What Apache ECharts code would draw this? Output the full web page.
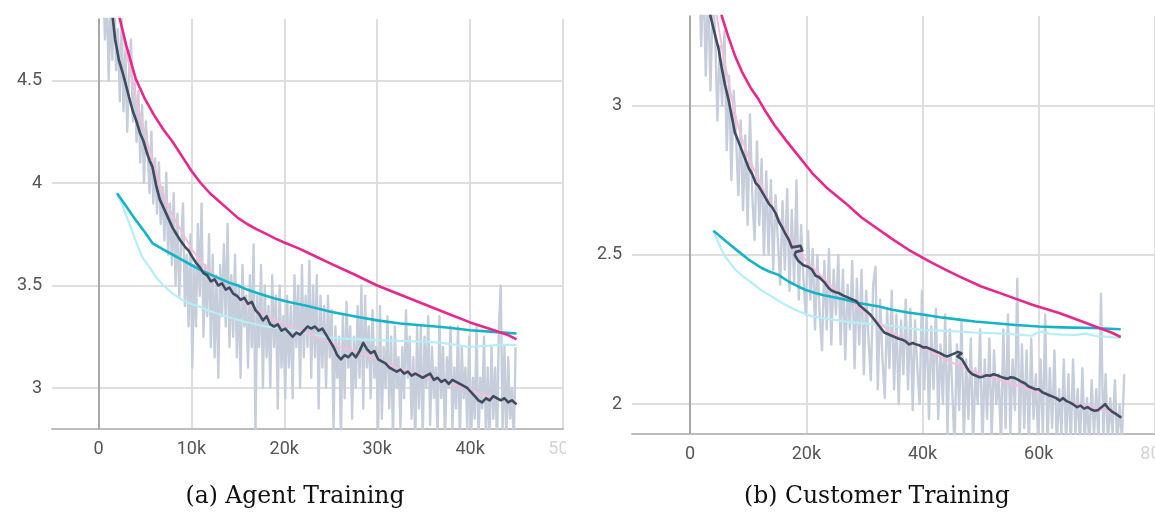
<!DOCTYPE html>
<html>
<head>
<meta charset="utf-8">
<script src="https://cdn.jsdelivr.net/npm/echarts@6/dist/echarts.min.js"></script>
<style>
html,body{margin:0;padding:0;background:#fff;overflow:hidden;}
#chart{width:1155px;height:514px;}
</style>
</head>
<body>
<div id="chart"></div>
<script>
// ---------- Agent training (panel a), x in thousands of steps ----------
const agentXTicks = [0, 10, 20, 30, 40, 50];
const agentYTicks = [3, 3.5, 4, 4.5];
const agentRawStart = 0.5, agentRawStep = 0.2;
const agentRawLoss = [
  5.0, 4.7, 4.95, 4.5, 4.85, 4.6, 4.98, 4.55, 4.75, 4.4,
  4.8, 4.35, 4.65, 4.25, 4.55, 4.7, 4.3, 4.5, 4.2, 4.45,
  4.1, 4.38, 4.0, 4.3, 4.15, 3.95, 4.25, 3.9, 4.12, 3.85,
  4.1, 3.8, 3.98, 3.72, 4.05, 3.65, 3.9, 3.6, 3.95, 3.5,
  3.85, 3.45, 3.7, 3.9, 3.4, 3.65, 3.3, 3.75, 3.1, 3.6,
  3.3, 3.8, 3.45, 3.9, 3.25, 3.6, 3.35, 3.75, 3.2, 3.65,
  3.15, 3.55, 3.05, 3.6, 3.35, 3.7, 3.3, 3.8, 3.2, 3.55,
  3.25, 3.65, 3.15, 3.5, 3.05, 3.6, 3.3, 3.45, 3.1, 3.55,
  3.2, 3.7, 2.78, 3.45, 3.2, 3.6, 3.0, 3.5, 3.15, 3.4,
  3.0, 3.55, 3.2, 3.45, 2.9, 3.5, 3.1, 3.35, 2.95, 3.45,
  3.1, 3.4, 2.95, 3.55, 3.2, 3.5, 3.0, 3.6, 3.15, 3.45,
  3.2, 3.62, 3.05, 3.5, 3.15, 3.55, 2.9, 3.45, 3.1, 3.4,
  3.0, 3.45, 3.15, 3.38, 2.8, 3.3, 3.05, 3.25, 2.75, 3.35,
  2.95, 3.42, 3.1, 3.3, 2.85, 3.25, 3.0, 3.4, 3.05, 3.5,
  2.9, 3.45, 3.1, 3.3, 2.95, 3.38, 3.05, 3.2, 2.8, 3.4,
  2.85, 3.2, 3.0, 3.35, 2.9, 3.25, 2.75, 3.3, 3.0, 3.15,
  2.8, 3.2, 2.95, 3.38, 3.05, 3.25, 2.85, 3.15, 2.72, 3.3,
  2.9, 3.3, 2.75, 3.25, 3.0, 3.35, 2.82, 3.2, 2.95, 3.1,
  2.75, 3.35, 2.95, 3.2, 2.72, 3.15, 3.0, 3.3, 2.8, 3.1,
  2.9, 3.3, 2.72, 3.2, 2.95, 3.1, 2.8, 3.25, 2.72, 3.05,
  2.85, 3.3, 2.72, 3.05, 2.9, 3.25, 2.75, 3.1, 2.72, 3.2,
  2.85, 3.1, 2.72, 3.3, 3.5, 2.8, 3.2, 2.72, 3.15, 2.85,
  3.0, 2.72, 3.2
];
const agentSmoothSteps = [1.2,1.5,1.8,2.2,2.6,3.0,3.4,3.7,4.1,4.5,4.8,5.2,5.5,5.8,6.2,6.6,7.0,7.5,8.0,8.4,8.8,9.3,9.7,10.1,10.5,10.9,11.3,11.7,12.1,12.5,12.9,13.3,13.7,14.1,14.5,14.9,15.3,15.7,16.1,16.5,16.9,17.3,17.7,18.1,18.5,18.9,19.3,19.7,20.1,20.5,20.9,21.3,21.7,22.1,22.5,22.9,23.3,23.7,24.1,24.5,24.9,25.3,25.7,26.1,26.5,26.9,27.3,27.7,28.1,28.5,28.9,29.3,29.7,30.1,30.5,30.9,31.3,31.7,32.1,32.5,32.9,33.3,33.7,34.1,34.5,34.9,35.3,35.7,36.1,36.5,36.9,37.3,37.7,38.1,38.5,38.9,39.3,39.7,40.1,40.5,40.9,41.3,41.7,42.1,42.5,42.9,43.3,43.7,44.1,44.5,45.0];
const agentSmoothLoss = [4.95,4.82,4.7,4.6,4.54,4.47,4.40,4.35,4.30,4.24,4.21,4.15,4.11,4.08,3.99,3.92,3.88,3.83,3.78,3.75,3.72,3.69,3.67,3.64,3.61,3.59,3.56,3.55,3.52,3.53,3.50,3.51,3.48,3.49,3.46,3.45,3.43,3.44,3.41,3.42,3.38,3.36,3.33,3.35,3.31,3.30,3.31,3.28,3.29,3.27,3.25,3.27,3.26,3.28,3.30,3.29,3.30,3.28,3.29,3.26,3.23,3.20,3.16,3.14,3.16,3.15,3.17,3.15,3.18,3.22,3.19,3.17,3.18,3.14,3.13,3.12,3.10,3.09,3.08,3.09,3.07,3.08,3.06,3.07,3.06,3.05,3.06,3.07,3.04,3.05,3.03,3.04,3.02,3.04,3.03,3.02,3.01,3.00,2.98,2.96,2.94,2.93,2.95,2.94,2.96,2.95,2.94,2.95,2.93,2.94,2.92];
const agentTrendSteps = [1.5,2,2.5,3,3.5,4,4.5,5,5.5,6,6.5,7,7.5,8,9,10,11,12,13,14,15,16,17,18,19,20,21.5,23,24.5,26,27.5,29,30.5,32,33.5,35,36.5,38,39.5,41,43,45];
const agentTrendLoss = [5.0,4.9,4.76,4.64,4.53,4.42,4.33,4.24,4.16,4.08,4.01,3.95,3.89,3.84,3.76,3.68,3.62,3.57,3.52,3.48,3.445,3.41,3.38,3.35,3.33,3.31,3.285,3.26,3.23,3.20,3.18,3.16,3.13,3.10,3.08,3.06,3.04,3.02,3.00,2.97,2.95,2.925];
const agentDecaySteps = [2,2.3,3,4,5,6,7,8,9,10,11,12,13,14,15,16,17,18,19,20,21.6,23,25,27.5,30,32.5,35,37.5,40,42,44,45];
const agentDecayLoss = [4.88,4.80,4.67,4.51,4.41,4.33,4.26,4.20,4.13,4.06,4.00,3.95,3.91,3.87,3.83,3.80,3.775,3.753,3.73,3.71,3.68,3.65,3.607,3.555,3.50,3.455,3.41,3.365,3.32,3.29,3.26,3.237];
const agentValSteps = [2,3,4,5,5.84,7,8,9,10,11,12,13,14,15,16,17,18,19,20.5,22.5,25,27.5,30,32.5,35,37.5,40,42.5,45];
const agentValLoss = [3.95,3.885,3.82,3.76,3.705,3.675,3.65,3.625,3.60,3.575,3.555,3.535,3.515,3.50,3.48,3.465,3.45,3.437,3.42,3.40,3.372,3.35,3.33,3.315,3.305,3.295,3.282,3.274,3.266];
const agentValRawSteps = [2,2.5,3,3.5,4,4.4,4.8,5.5,6.2,7,8,9,10,10.9,12,13,14.4,16,18,20,22.5,24.8,27,30,32.5,35,37,38.5,39.9,41.5,43,45];
const agentValRawLoss = [3.95,3.90,3.84,3.78,3.72,3.672,3.632,3.59,3.54,3.50,3.46,3.43,3.41,3.396,3.375,3.36,3.34,3.32,3.30,3.29,3.265,3.247,3.24,3.234,3.23,3.226,3.22,3.21,3.20,3.205,3.21,3.21];

// ---------- Customer training (panel b), x in thousands of steps ----------
const custXTicks = [0, 20, 40, 60, 80];
const custYTicks = [2, 2.5, 3];
const custRawStart = 1.5, custRawStep = 0.4;
const custRawLoss = [
  3.5, 3.2, 3.45, 3.1, 3.4, 3.05, 3.35, 3.25, 2.95, 3.2,
  3.0, 3.25, 2.85, 3.1, 2.75, 3.05, 2.9, 2.7, 2.95, 2.65,
  2.9, 2.6, 2.97, 2.7, 2.55, 2.88, 2.6, 2.82, 2.5, 2.78,
  2.5, 2.75, 2.45, 2.7, 2.55, 2.4, 2.68, 2.45, 2.72, 2.38,
  2.65, 2.4, 2.75, 2.35, 2.6, 2.42, 2.3, 2.58, 2.35, 2.52,
  2.25, 2.5, 2.3, 2.18, 2.48, 2.25, 2.52, 2.2, 2.45, 2.3,
  2.5, 2.2, 2.45, 2.15, 2.4, 2.25, 2.48, 2.12, 2.42, 2.2,
  2.45, 2.1, 2.38, 2.22, 2.08, 2.4, 2.46, 2.05, 2.35, 2.15,
  2.02, 2.32, 2.12, 2.38, 2.05, 2.3, 2.0, 2.28, 2.1, 2.35,
  2.05, 2.32, 1.98, 2.28, 2.12, 2.0, 2.38, 2.05, 2.3, 1.95,
  2.26, 2.05, 2.32, 1.95, 2.2, 2.0, 2.3, 1.9, 2.25, 2.05,
  1.86, 2.2, 1.98, 2.28, 1.88, 2.15, 1.95, 2.22, 1.86, 2.12,
  2.0, 2.25, 1.86, 2.15, 1.95, 2.22, 1.88, 2.18, 2.0, 2.1,
  1.86, 2.25, 1.92, 2.3, 1.9, 2.15, 1.98, 2.42, 1.86, 2.2,
  1.92, 2.18, 1.86, 2.22, 1.95, 2.1, 1.86, 2.15, 1.9, 2.3,
  1.86, 2.12, 1.92, 2.18, 1.86, 2.05, 1.9, 2.15, 1.86, 2.1,
  1.86, 2.15, 1.9, 2.05, 1.86, 2.12, 1.88, 2.02, 1.86, 2.08,
  1.9, 2.05, 1.86, 2.37, 1.88, 2.1, 1.86, 2.02, 1.9, 2.08,
  1.86, 2.0, 1.88, 2.1
];
const custSmoothSteps = [3.0,3.5,4.0,4.5,4.9,5.4,6.0,6.6,7.2,7.7,8.3,8.9,9.5,10.1,10.7,11.3,11.8,12.4,13.0,13.6,14.1,14.7,15.3,15.9,16.4,17.0,17.5,19.0,19.3,18.2,18.0,18.6,19.5,20.3,21.0,21.6,22.2,23.2,23.8,24.4,25.0,25.6,26.2,26.8,27.4,28.0,28.6,29.2,29.8,30.4,31.0,31.6,32.2,32.8,33.4,34.0,34.6,35.2,35.8,36.5,37.1,37.7,38.3,38.9,39.5,40.1,40.7,41.3,41.9,42.5,43.1,43.7,44.3,44.9,45.5,46.1,46.7,46.0,46.8,47.4,48.0,48.6,49.2,49.8,50.4,51.0,51.6,52.2,52.8,53.4,54.0,54.6,55.2,55.8,56.4,57.0,57.6,58.2,58.8,59.4,60.0,60.6,61.2,61.8,62.4,63.0,63.6,64.2,64.8,65.4,66.0,66.6,67.2,67.8,68.4,69.0,69.6,70.2,70.8,71.4,72.0,72.6,73.2,73.8,74.2];
const custSmoothLoss = [3.45,3.30,3.26,3.22,3.19,3.13,3.07,3.02,2.96,2.91,2.88,2.85,2.82,2.79,2.77,2.74,2.73,2.71,2.69,2.67,2.66,2.64,2.61,2.59,2.57,2.55,2.525,2.53,2.515,2.51,2.50,2.48,2.465,2.46,2.45,2.43,2.425,2.406,2.39,2.38,2.375,2.372,2.365,2.36,2.355,2.35,2.345,2.33,2.32,2.31,2.30,2.285,2.27,2.255,2.24,2.235,2.23,2.225,2.22,2.216,2.21,2.20,2.205,2.20,2.197,2.19,2.19,2.185,2.18,2.175,2.17,2.163,2.16,2.165,2.17,2.175,2.17,2.16,2.15,2.13,2.11,2.10,2.095,2.09,2.092,2.097,2.095,2.10,2.097,2.092,2.088,2.085,2.09,2.088,2.082,2.075,2.07,2.06,2.055,2.05,2.05,2.04,2.035,2.03,2.025,2.02,2.012,2.02,2.01,2.005,1.998,1.99,1.995,1.985,1.99,1.982,1.978,1.98,1.99,2.00,1.985,1.975,1.968,1.96,1.955];
const custTrendSteps = [3.5,4,4.5,5,5.5,6,7,8,9,10,11,12,13,14,15,16,17,18,19,20,22,24,26,28,30,32,34,36,38,40,42.5,45,47.5,50,52.5,55,57.5,60,62.5,65,67.5,70,72,74.1];
const custTrendLoss = [3.42,3.36,3.31,3.25,3.195,3.14,3.04,2.95,2.885,2.83,2.785,2.745,2.70,2.665,2.63,2.595,2.56,2.53,2.505,2.48,2.44,2.40,2.37,2.34,2.31,2.28,2.25,2.225,2.205,2.19,2.165,2.14,2.12,2.10,2.085,2.07,2.055,2.04,2.025,2.01,1.997,1.985,1.975,1.96];
const custDecaySteps = [4,5,5.45,6.5,7.76,9,10.4,11.8,13,14.5,16.4,18.5,21,23.5,26.7,29.5,32.5,35,37.6,41,44,46.3,50,54.9,59,63.5,67,70.4,72.5,74.1];
const custDecayLoss = [3.42,3.34,3.30,3.235,3.165,3.11,3.06,3.02,2.98,2.935,2.886,2.835,2.774,2.725,2.674,2.625,2.584,2.55,2.517,2.48,2.45,2.428,2.395,2.361,2.332,2.305,2.28,2.255,2.24,2.225];
const custValSteps = [4,5,6,7,8.4,10,12.3,13.5,15.2,17,18.5,19.8,21.5,23,25,26.7,29,32.5,34.8,37.5,40,43,46.3,49,52,56,60,64,69.2,74.1];
const custValLoss = [2.581,2.565,2.548,2.532,2.51,2.485,2.456,2.445,2.433,2.41,2.395,2.383,2.372,2.365,2.357,2.35,2.339,2.327,2.316,2.307,2.30,2.291,2.283,2.277,2.272,2.265,2.26,2.257,2.255,2.251];
const custValRawSteps = [4,4.7,5.4,6,7,7.8,9,10.6,12,14,16,18,21,24,26.7,29,31.3,34.8,37,40,43,46.3,49,52,55,58.9,59.8,60.6,62,64,66.4,68,70,72,74.1];
const custValRawLoss = [2.581,2.548,2.517,2.495,2.47,2.45,2.43,2.406,2.385,2.361,2.337,2.316,2.294,2.285,2.277,2.272,2.268,2.262,2.255,2.249,2.246,2.243,2.24,2.238,2.235,2.229,2.24,2.243,2.235,2.233,2.232,2.236,2.228,2.225,2.221];

// ---------- styling ----------
const C_RAW = '#c7cedb', C_DARK = '#3f4b60', C_TREND = '#f7bdd8',
      C_DECAY = '#e8278c', C_VAL = '#14b4c8', C_VALRAW = '#b5eef6';
const LABEL_FONT = {fontFamily: 'Roboto', fontSize: 18, color: '#555'};

function zip(xs, ys){ return xs.map((x,i)=>[x, ys[i]]); }
function rawPairs(start, step, vals){ return vals.map((v,i)=>[+(start + i*step).toFixed(2), v]); }
function kfmt(v){ return v === 0 ? '0' : v + 'k'; }

function line(idx, data, color, width, z){
  return {type:'line', xAxisIndex:idx, yAxisIndex:idx, data:data, showSymbol:false,
    symbol:'none', lineStyle:{color:color, width:width, join:'round'}, z:z, silent:true, animation:false};
}
function zeroLine(idx){
  return {type:'line', xAxisIndex:idx, yAxisIndex:idx, data:[], silent:true, z:1,
    markLine:{symbol:'none', silent:true, animation:false, label:{show:false},
      lineStyle:{color:'#a8a8a8', width:2, type:'solid'}, data:[{xAxis:0}]}};
}
function xAxis(idx, min, max, ticks, faded){
  return {type:'value', gridIndex:idx, min:min, max:max,
    axisLine:{show:true, lineStyle:{color:'#bdbdbd', width:2}},
    axisTick:{show:false, customValues:ticks},
    splitLine:{show:true, lineStyle:{color:'#dedede', width:2}},
    axisLabel:Object.assign({customValues:ticks, margin:11, showMinLabel:true, showMaxLabel:true,
      hideOverlap:false,
      formatter:v=> v===faded ? '{f|'+kfmt(v)+'}' : kfmt(v),
      rich:{f:{color:'#d4d4d4', fontFamily:'Roboto', fontSize:18}}}, LABEL_FONT)};
}
function yAxis(idx, min, max, ticks){
  return {type:'value', gridIndex:idx, min:min, max:max,
    axisLine:{show:true, lineStyle:{color:'#bdbdbd', width:2}},
    axisTick:{show:false, customValues:ticks},
    splitLine:{show:true, lineStyle:{color:'#dedede', width:2}},
    axisLabel:Object.assign({customValues:ticks, margin:10, formatter:v=>String(v)}, LABEL_FONT)};
}

const option = {
  backgroundColor:'#fff',
  animation:false,
  grid:[
    {left:52, top:19, width:511, height:410, outerBoundsMode:'none', containLabel:false},
    {left:632, top:16, width:523, height:418, outerBoundsMode:'none', containLabel:false}
  ],
  xAxis:[ xAxis(0, -5, 50, agentXTicks, 50), xAxis(1, -10, 80, custXTicks, 80) ],
  yAxis:[ yAxis(0, 2.8, 4.8, agentYTicks), yAxis(1, 1.9, 3.3, custYTicks) ],
  series:[
    zeroLine(0),
    line(0, rawPairs(agentRawStart, agentRawStep, agentRawLoss), C_RAW, 2.4, 2),
    line(0, zip(agentValRawSteps, agentValRawLoss), C_VALRAW, 2.2, 3),
    line(0, zip(agentTrendSteps, agentTrendLoss), C_TREND, 2, 3),
    line(0, zip(agentValSteps, agentValLoss), C_VAL, 2.6, 4),
    line(0, zip(agentDecaySteps, agentDecayLoss), C_DECAY, 2.6, 5),
    line(0, zip(agentSmoothSteps, agentSmoothLoss), C_DARK, 2.6, 6),
    zeroLine(1),
    line(1, rawPairs(custRawStart, custRawStep, custRawLoss), C_RAW, 2.4, 2),
    line(1, zip(custValRawSteps, custValRawLoss), C_VALRAW, 2.2, 3),
    line(1, zip(custTrendSteps, custTrendLoss), C_TREND, 2, 3),
    line(1, zip(custValSteps, custValLoss), C_VAL, 2.6, 4),
    line(1, zip(custDecaySteps, custDecayLoss), C_DECAY, 2.6, 5),
    line(1, zip(custSmoothSteps, custSmoothLoss), C_DARK, 2.6, 6)
  ],
  graphic:[
    {type:'rect', left:566, top:436, shape:{width:40, height:30}, style:{fill:'#fff'}, z:100, silent:true},
    {type:'text', x:295, y:497, style:{text:'(a) Agent Training', font:'23.5px "DejaVu Serif"', fill:'#111', align:'center', verticalAlign:'middle'}},
    {type:'text', x:877, y:497, style:{text:'(b) Customer Training', font:'23.5px "DejaVu Serif"', fill:'#111', align:'center', verticalAlign:'middle'}}
  ]
};
const chart = echarts.init(document.getElementById('chart'), null, {renderer:'canvas'});
chart.setOption(option);
</script>
</body>
</html>
